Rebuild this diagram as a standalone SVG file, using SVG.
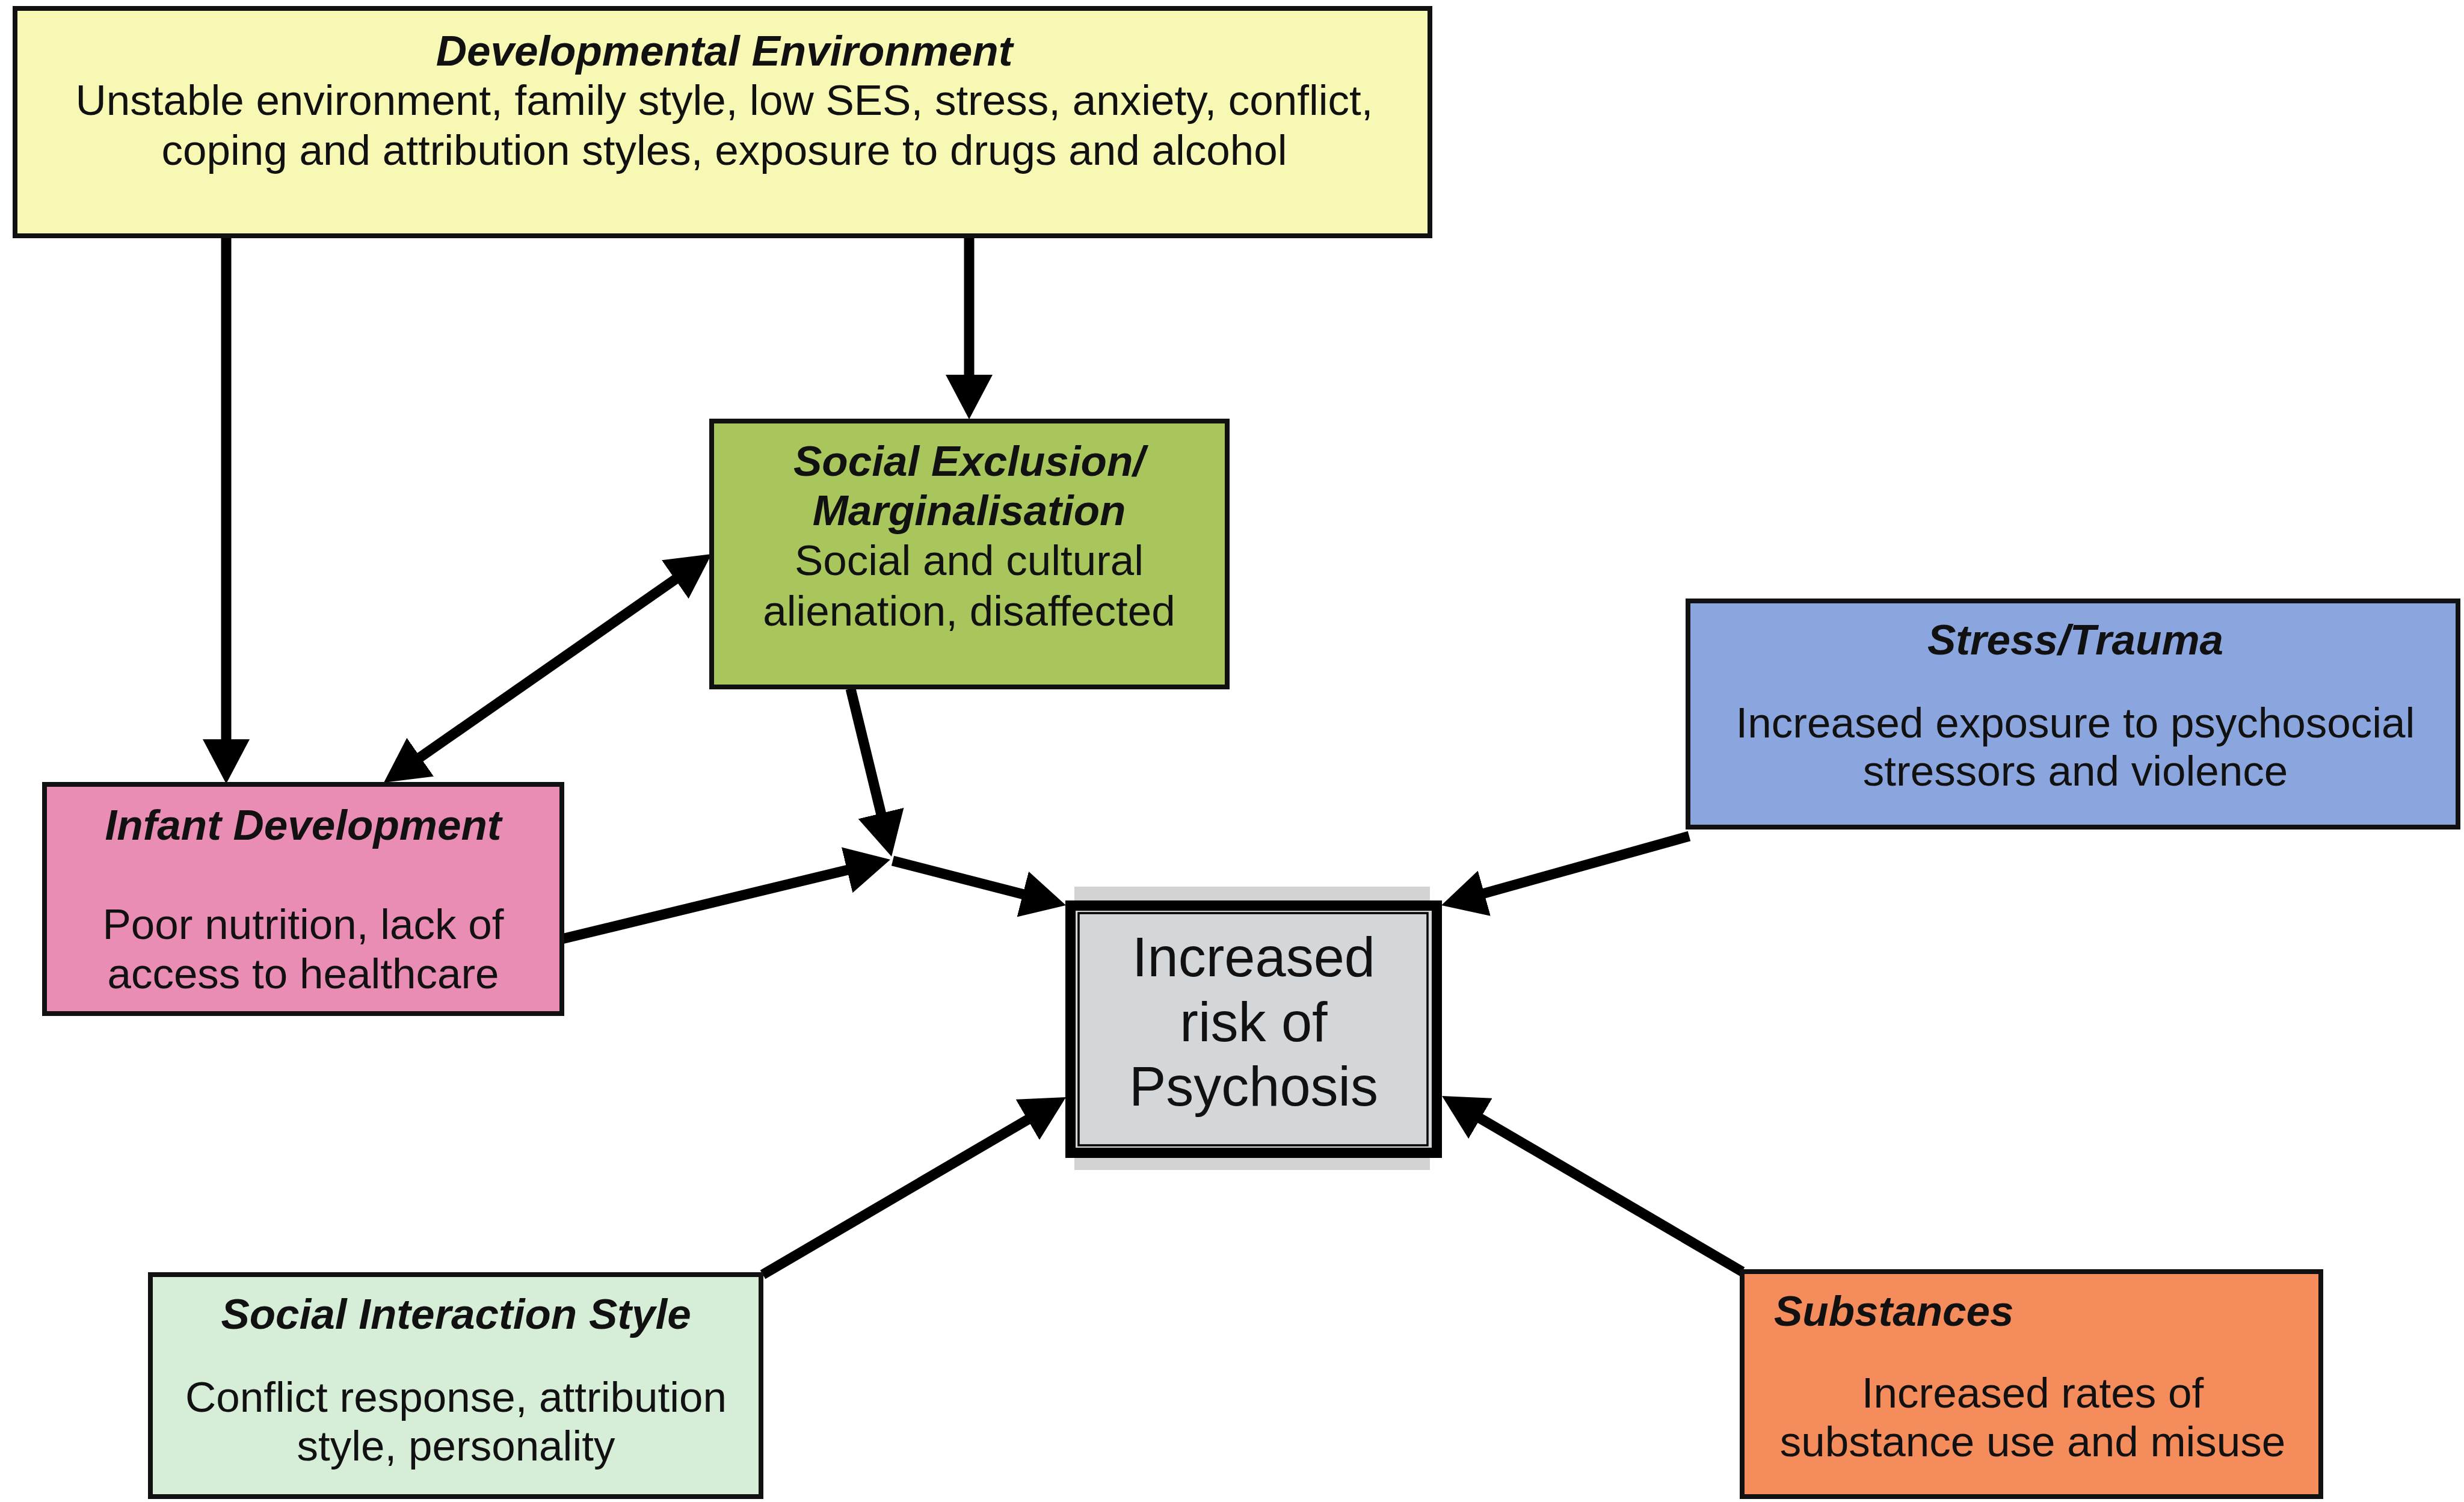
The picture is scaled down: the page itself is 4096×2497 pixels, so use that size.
<svg xmlns="http://www.w3.org/2000/svg" width="4096" height="2497" viewBox="0 0 4096 2497">
<defs>
<style>
.box{stroke:#111;stroke-width:8}
.t{font-family:"Liberation Sans",Arial,sans-serif;font-size:71px;fill:#111;text-anchor:middle}
.h{font-weight:bold;font-style:italic}
.big{font-size:92px}
.c{fill:none;stroke:#000;stroke-width:17;marker-end:url(#ah)}
</style>
<marker id="ah" markerUnits="userSpaceOnUse" viewBox="0 0 74 78" markerWidth="74" markerHeight="78" refX="54" refY="39" orient="auto-start-reverse">
<path d="M0,0 L74,39 L0,78 z" fill="#000"/>
</marker>
</defs>
<rect width="4096" height="2497" fill="#fff"/>

<g id="connectors">
<path class="c" d="M376,394 L376,1283"/>
<path class="c" d="M1611,394 L1611,677"/>
<path class="c" style="marker-start:url(#ah)" d="M654.4,1289.6 L1166.6,932.4"/>
<path class="c" d="M1414,1145 L1477.3,1404.6"/>
<path class="c" d="M934,1561 L1460.6,1433.7"/>
<path class="c" d="M1484,1431 L1752.6,1500"/>
<path class="c" d="M2808,1390 L2415.3,1499.6"/>
<path class="c" d="M2896,2114 L2414.3,1832.1"/>
<path class="c" d="M1268,2119 L1754.8,1834.1"/>
</g>

<g id="developmental-environment">
<rect class="box" x="25" y="14" width="2352" height="378" fill="#F7F8B3"/>
<text class="t h" x="1204" y="109">Developmental Environment</text>
<text class="t" x="1204" y="191">Unstable environment, family style, low SES, stress, anxiety, conflict,</text>
<text class="t" x="1204" y="274">coping and attribution styles, exposure to drugs and alcohol</text>
</g>

<g id="social-exclusion">
<rect class="box" x="1183" y="700" width="857" height="442" fill="#A8C65C"/>
<text class="t h" x="1611" y="791">Social Exclusion/</text>
<text class="t h" x="1611" y="873">Marginalisation</text>
<text class="t" x="1611" y="956">Social and cultural</text>
<text class="t" x="1611" y="1040">alienation, disaffected</text>
</g>

<g id="stress-trauma">
<rect class="box" x="2806" y="999" width="1280" height="376" fill="#8BA5DE"/>
<text class="t h" x="3450" y="1088">Stress/Trauma</text>
<text class="t" x="3450" y="1226">Increased exposure to psychosocial</text>
<text class="t" x="3450" y="1306">stressors and violence</text>
</g>

<g id="infant-development">
<rect class="box" x="74" y="1304" width="860" height="381" fill="#EA8DB4"/>
<text class="t h" x="504" y="1396">Infant Development</text>
<text class="t" x="504" y="1561">Poor nutrition, lack of</text>
<text class="t" x="504" y="1643">access to healthcare</text>
</g>

<g id="increased-risk">
<rect x="1786" y="1474" width="591" height="471" fill="#D2D2D2"/>
<rect x="1779.5" y="1505.5" width="609" height="411" fill="#D4D7DA" stroke="#000" stroke-width="17"/>
<rect x="1793" y="1518" width="580" height="386" fill="none" stroke="#000" stroke-width="3.5"/>
<text class="t big" x="2084" y="1623">Increased</text>
<text class="t big" x="2084" y="1731">risk of</text>
<text class="t big" x="2084" y="1838">Psychosis</text>
</g>

<g id="social-interaction-style">
<rect class="box" x="250" y="2119" width="1015" height="369" fill="#D6EDD7"/>
<text class="t h" x="758" y="2209">Social Interaction Style</text>
<text class="t" x="758" y="2347">Conflict response, attribution</text>
<text class="t" x="758" y="2428">style, personality</text>
</g>

<g id="substances">
<rect class="box" x="2896" y="2114" width="962" height="374" fill="#F48C5B"/>
<text class="t h" x="2949" y="2204" style="text-anchor:start">Substances</text>
<text class="t" x="3379" y="2340">Increased rates of</text>
<text class="t" x="3379" y="2421">substance use and misuse</text>
</g>
</svg>
